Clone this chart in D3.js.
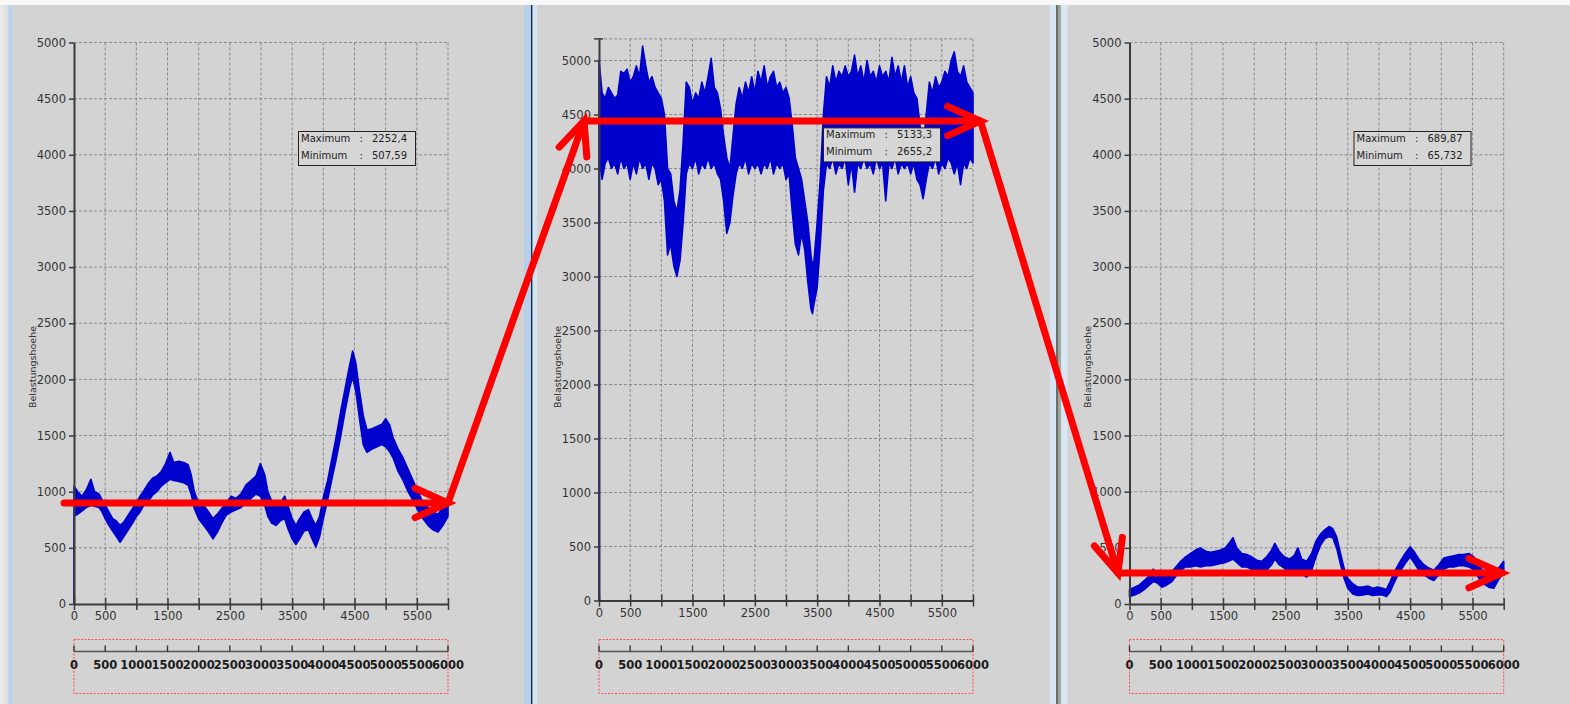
<!DOCTYPE html>
<html>
<head>
<meta charset="utf-8">
<script src="https://cdn.jsdelivr.net/npm/d3@7"></script>
<style>
  html, body { margin: 0; padding: 0; background: #d3d3d3; }
  svg { display: block; }
  text { font-family: "DejaVu Sans", Verdana, sans-serif; }
</style>
</head>
<body>
<svg id="chart" width="1570" height="704"></svg>
<script>
// ---- axis values ----
const timeTicks = d3.range(0, 6001, 500);
const timeLabels = [0, 500, 1500, 2500, 3500, 4500, 5500];
const loadTicks = d3.range(0, 5001, 500);
const axisTitle = "Belastungshoehe";

// ---- run 1: load envelope (upper / lower) over time ----
const run1Time  = [0, 0, 60, 130, 200, 270, 330, 400, 450, 500, 560, 620, 680, 740, 800, 870, 940, 1000, 1060, 1120, 1200, 1260, 1330, 1400, 1470, 1540, 1600, 1680, 1760, 1830, 1880, 1930, 2000, 2080, 2160, 2230, 2300, 2370, 2440, 2520, 2600, 2680, 2760, 2840, 2920, 2990, 3060, 3110, 3170, 3240, 3310, 3380, 3440, 3500, 3560, 3620, 3690, 3760, 3820, 3880, 3940, 4000, 4070, 4140, 4210, 4280, 4350, 4420, 4470, 4520, 4580, 4640, 4700, 4780, 4860, 4940, 5000, 5060, 5120, 5200, 5280, 5360, 5440, 5520, 5600, 5680, 5760, 5840, 5920, 6000];
const run1Upper = [1050, 1050, 1000, 960, 1020, 1110, 1000, 980, 930, 880, 820, 760, 740, 700, 730, 790, 850, 900, 960, 1010, 1080, 1120, 1140, 1180, 1250, 1350, 1260, 1270, 1260, 1240, 1150, 1000, 900, 880, 820, 760, 800, 850, 900, 960, 940, 980, 1060, 1100, 1140, 1250, 1150, 1000, 920, 860, 900, 960, 860, 760, 700, 760, 820, 840, 760, 700, 780, 950, 1100, 1300, 1500, 1720, 1920, 2120, 2252.4, 2150, 1900, 1680, 1550, 1560, 1580, 1600, 1650, 1600, 1480, 1380, 1300, 1200, 1100, 1000, 900, 860, 820, 800, 860, 920];
const run1Lower = [0, 780, 800, 830, 860, 880, 870, 860, 820, 760, 700, 650, 600, 550, 600, 660, 720, 780, 820, 880, 920, 970, 1000, 1050, 1080, 1110, 1100, 1090, 1080, 1060, 980, 850, 760, 700, 640, 580, 640, 720, 790, 820, 840, 860, 900, 940, 980, 960, 880, 780, 720, 700, 740, 760, 660, 580, 530, 580, 650, 660, 580, 507.59, 600, 760, 930, 1120, 1300, 1500, 1720, 1920, 2020, 1900, 1650, 1420, 1350, 1380, 1400, 1420, 1400, 1360, 1300, 1180, 1100, 1000, 920, 830, 760, 700, 660, 640, 700, 780];
const run1Stats = ["2252,4", "507,59"];

// ---- run 2 ----
const run2Time  = [0, 0, 50, 100, 150, 200, 250, 300, 350, 400, 450, 500, 550, 600, 650, 700, 750, 800, 850, 900, 950, 1000, 1050, 1100, 1150, 1200, 1250, 1300, 1350, 1400, 1450, 1500, 1550, 1600, 1650, 1700, 1750, 1800, 1850, 1900, 1950, 2000, 2050, 2100, 2150, 2200, 2250, 2300, 2350, 2400, 2450, 2500, 2550, 2600, 2650, 2700, 2750, 2800, 2850, 2900, 2950, 3000, 3050, 3100, 3150, 3200, 3250, 3300, 3350, 3400, 3425, 3450, 3500, 3550, 3600, 3650, 3700, 3750, 3800, 3850, 3900, 3950, 4000, 4050, 4100, 4150, 4200, 4250, 4300, 4350, 4400, 4450, 4500, 4550, 4600, 4650, 4700, 4750, 4800, 4850, 4900, 4950, 5000, 5050, 5100, 5150, 5200, 5250, 5300, 5350, 5400, 5450, 5500, 5550, 5600, 5650, 5700, 5750, 5800, 5850, 5900, 5950, 6000];
const run2Upper = [5000, 5000, 4700, 4650, 4750, 4700, 4650, 4680, 4900, 4880, 4920, 4800, 4850, 4950, 4850, 5133.3, 4950, 4800, 4850, 4750, 4700, 4650, 4500, 4000, 3950, 3700, 3600, 3800, 4250, 4800, 4750, 4600, 4700, 4650, 4800, 4700, 4850, 5020, 4750, 4700, 4550, 4300, 4100, 4000, 4300, 4600, 4750, 4650, 4800, 4700, 4850, 4700, 4900, 4800, 4950, 4750, 4850, 4900, 4750, 4800, 4700, 4750, 4650, 4400, 4100, 4000, 3900, 3700, 3500, 3200, 3100, 3150, 3500, 3900, 4500, 4850, 4750, 4950, 4800, 4900, 4850, 4950, 4850, 4900, 5050, 4850, 4950, 4800, 5000, 4850, 4900, 4800, 4950, 4850, 4900, 4800, 5030, 4850, 4950, 4800, 4950, 4750, 4850, 4700, 4650, 4400, 4200, 4500, 4800, 4700, 4850, 4750, 4800, 4900, 4850, 5000, 5080, 4900, 4850, 4950, 4800, 4750, 4700];
const run2Lower = [0, 4100, 3900, 4050, 4100, 4000, 4050, 3950, 4100, 4000, 4050, 3900, 4050, 3950, 4100, 4000, 4050, 3900, 4050, 4000, 3850, 3900, 3700, 3200, 3300, 3100, 3000, 3150, 3500, 3950, 4050, 4000, 4100, 3950, 4050, 4000, 4100, 4000, 4050, 3950, 3900, 3700, 3400, 3500, 3750, 3950, 4050, 4000, 4100, 3950, 4050, 4000, 4050, 3950, 4050, 4000, 4100, 3950, 4050, 4000, 4050, 3900, 3950, 3600, 3300, 3200, 3400, 3250, 2950, 2700, 2655.2, 2750, 2900, 3300, 3800, 4050, 4000, 4100, 3950, 4050, 4000, 4100, 3850, 4050, 3780, 4050, 4000, 4100, 4000, 4050, 3950, 4100, 4000, 4050, 3700, 4050, 4000, 4100, 3950, 4050, 4000, 4050, 3950, 4050, 3900, 3850, 3720, 3900, 4050, 4000, 4100, 3950, 4050, 4000, 4100, 4050, 3950, 4050, 3850, 4050, 4000, 4100, 4050];
const run2Stats = ["5133,3", "2655,2"];

// ---- run 3 ----
const run3Time  = [0, 80, 160, 240, 320, 380, 440, 520, 600, 680, 760, 820, 900, 980, 1060, 1140, 1220, 1300, 1380, 1460, 1540, 1620, 1660, 1720, 1800, 1880, 1960, 2040, 2120, 2200, 2280, 2330, 2400, 2480, 2560, 2640, 2700, 2760, 2840, 2920, 2990, 3060, 3130, 3200, 3260, 3320, 3380, 3440, 3500, 3580, 3660, 3740, 3820, 3900, 3980, 4060, 4120, 4180, 4260, 4340, 4420, 4500, 4560, 4640, 4720, 4800, 4880, 4960, 5040, 5120, 5200, 5280, 5360, 5440, 5520, 5600, 5680, 5760, 5840, 5920, 6000];
const run3Upper = [130, 150, 170, 210, 250, 310, 260, 240, 260, 290, 340, 380, 420, 450, 480, 500, 470, 460, 470, 480, 500, 560, 590, 500, 450, 440, 420, 390, 380, 420, 480, 540, 470, 420, 400, 430, 500, 400, 380, 450, 560, 620, 660, 689.87, 670, 600, 460, 320, 230, 180, 150, 150, 160, 140, 150, 140, 130, 200, 300, 380, 450, 510, 470, 400, 350, 320, 300, 350, 410, 420, 430, 440, 440, 450, 420, 340, 290, 250, 230, 320, 380];
const run3Lower = [66, 80, 100, 130, 170, 200, 190, 150, 170, 200, 260, 300, 330, 330, 340, 330, 340, 340, 350, 360, 370, 390, 400, 370, 330, 330, 310, 290, 280, 300, 350, 400, 350, 320, 280, 290, 300, 270, 240, 300, 420, 520, 580, 600, 590, 500, 360, 230, 140, 90, 75, 80, 90, 75, 80, 80, 65.732, 110, 210, 290, 360, 420, 370, 300, 260, 230, 210, 260, 310, 330, 330, 340, 340, 330, 310, 230, 180, 150, 140, 220, 280];
const run3Stats = ["689,87", "65,732"];

// ---- mean load level marked on each run ----
const meanLevels = [900, 4440, 275];
const meanStart = [-160, -240, -185];
const meanEnd = [6000, 6120, 5970];

const svg = d3.select("#chart");

// ---- window frame ----
const grad = svg.append("defs").append("linearGradient").attr("id", "edge").attr("x1", 0).attr("x2", 1);
grad.append("stop").attr("offset", 0).attr("stop-color", "#eeeeee");
grad.append("stop").attr("offset", 1).attr("stop-color", "#dcdcdc");
svg.append("rect").attr("width", 1570).attr("height", 704).attr("fill", "#d3d3d3");
svg.append("rect").attr("x", 0).attr("y", 0).attr("width", 8.5).attr("height", 704).attr("fill", "url(#edge)");
svg.append("rect").attr("x", 8.5).attr("y", 0).attr("width", 4).attr("height", 704).attr("fill", "#b9d1ec");
// splitter 1
svg.append("rect").attr("x", 524).attr("y", 0).attr("width", 7).attr("height", 704).attr("fill", "#b7cfea");
svg.append("rect").attr("x", 531).attr("y", 0).attr("width", 1.6).attr("height", 704).attr("fill", "#0f2f48");
svg.append("rect").attr("x", 532.6).attr("y", 0).attr("width", 4.4).attr("height", 704).attr("fill", "#d5e4f4");
// splitter 2
svg.append("rect").attr("x", 1050).attr("y", 0).attr("width", 6).attr("height", 704).attr("fill", "#d5e3f2");
svg.append("rect").attr("x", 1056).attr("y", 0).attr("width", 2.6).attr("height", 704).attr("fill", "#687068");
svg.append("rect").attr("x", 1058.6).attr("y", 0).attr("width", 2.6).attr("height", 704).attr("fill", "#a2aaa2");
svg.append("rect").attr("x", 1061.2).attr("y", 0).attr("width", 6.3).attr("height", 704).attr("fill", "#dae7f5");
svg.append("rect").attr("x", 0).attr("y", 0).attr("width", 1570).attr("height", 5).attr("fill", "#f8f8f8");

// ---- chart layouts ----
const charts = [
  { x0: 74,     x1: 448,    yBottom: 604,   yTop: 42.5, yMax: 5000, time: run1Time, upper: run1Upper, lower: run1Lower, stats: run1Stats },
  { x0: 599,    x1: 973,    yBottom: 600.5, yTop: 38.9, yMax: 5200, time: run2Time, upper: run2Upper, lower: run2Lower, stats: run2Stats },
  { x0: 1129.5, x1: 1503.7, yBottom: 604,   yTop: 42.5, yMax: 5000, time: run3Time, upper: run3Upper, lower: run3Lower, stats: run3Stats }
];

const gridColor = "#8a8a8a";
const axisColor = "#3a3a3a";
const lineBlue = "#0000cc";

charts.forEach(c => {
  c.x = d3.scaleLinear().domain([0, 6000]).range([c.x0, c.x1]);
  c.y = d3.scaleLinear().domain([0, c.yMax]).range([c.yBottom, c.yTop]);
  const g = svg.append("g");

  // grid
  g.append("g").selectAll("line").data(timeTicks.filter(t => t > 0)).join("line")
    .attr("x1", d => c.x(d)).attr("x2", d => c.x(d))
    .attr("y1", c.y(c.yMax)).attr("y2", c.y(0))
    .attr("stroke", gridColor).attr("stroke-width", 1).attr("stroke-dasharray", "3,2");
  const hLines = loadTicks.filter(t => t > 0 && t < c.yMax).concat([c.yMax]);
  g.append("g").selectAll("line").data(hLines).join("line")
    .attr("x1", c.x(0)).attr("x2", c.x(6000))
    .attr("y1", d => c.y(d)).attr("y2", d => c.y(d))
    .attr("stroke", gridColor).attr("stroke-width", 1).attr("stroke-dasharray", "3,2");

  // series envelope
  const pts = c.time.map((t, i) => ({ t, hi: c.upper[i], lo: c.lower[i] }));
  const area = d3.area().x(d => c.x(d.t)).y0(d => c.y(d.lo)).y1(d => c.y(d.hi));
  g.append("path").datum(pts).attr("d", area)
    .attr("fill", lineBlue).attr("stroke", lineBlue).attr("stroke-width", 1.6).attr("stroke-linejoin", "round");

  // y axis
  const yAxis = g.append("g").attr("transform", `translate(${c.x0},0)`)
    .call(d3.axisLeft(c.y).tickValues(loadTicks).tickSize(5).tickSizeOuter(0).tickPadding(3).tickFormat(d3.format("d")));
  yAxis.select(".domain").attr("stroke", axisColor).attr("stroke-width", 2);
  yAxis.selectAll(".tick line").attr("stroke", axisColor).attr("stroke-width", 1.5);
  yAxis.selectAll(".tick text").attr("fill", "#333").style("font-size", "11.5px").style("font-family", '"DejaVu Sans", sans-serif');
  if (c.yMax > 5000) {
    g.append("line").attr("x1", c.x0 - 5).attr("x2", c.x0 + 4).attr("y1", c.y(c.yMax)).attr("y2", c.y(c.yMax))
      .attr("stroke", axisColor).attr("stroke-width", 1.5);
  }

  // x axis
  const xAxis = g.append("g").attr("transform", `translate(0,${c.yBottom})`)
    .call(d3.axisBottom(c.x).tickValues(timeTicks).tickSize(6).tickSizeOuter(0).tickPadding(2)
      .tickFormat(d => timeLabels.includes(d) ? String(d) : ""));
  xAxis.select(".domain").attr("stroke", axisColor).attr("stroke-width", 2);
  xAxis.selectAll(".tick line").attr("y1", -6).attr("stroke", axisColor).attr("stroke-width", 1.5);
  xAxis.selectAll(".tick text").attr("fill", "#333").style("font-size", "11.5px").style("font-family", '"DejaVu Sans", sans-serif');

  // y title
  g.append("text").attr("transform", `translate(${c.x0 - 41},367) rotate(-90)`)
    .attr("text-anchor", "middle").attr("dominant-baseline", "middle")
    .attr("fill", "#333").style("font-size", "9.5px").text(axisTitle);

  // min / max box
  const bx = c.x0 + 224.5, by = c.yTop + 89;
  const box = g.append("g").attr("transform", `translate(${bx},${by})`);
  box.append("rect").attr("width", 117).attr("height", 34).attr("fill", "#d6d6d6")
    .attr("stroke", "#222").attr("stroke-width", 1);
  [["Maximum", c.stats[0]], ["Minimum", c.stats[1]]].forEach((row, i) => {
    const ty = 7.5 + i * 16.5;
    box.append("text").attr("x", 2.5).attr("y", ty).attr("dominant-baseline", "middle")
      .attr("fill", "#222").style("font-size", "10px").text(row[0]);
    box.append("text").attr("x", 61).attr("y", ty).attr("dominant-baseline", "middle")
      .attr("fill", "#222").style("font-size", "10px").text(":");
    box.append("text").attr("x", 73.5).attr("y", ty).attr("dominant-baseline", "middle")
      .attr("fill", "#222").style("font-size", "10px").text(row[1]);
  });

  // range selector strip
  const sy = 651.5;
  g.append("rect").attr("x", c.x0).attr("y", 639.5).attr("width", c.x1 - c.x0).attr("height", 54)
    .attr("fill", "none").attr("stroke", "#ff4a4a").attr("stroke-width", 1).attr("stroke-dasharray", "2,1.5");
  g.append("line").attr("x1", c.x0).attr("x2", c.x1).attr("y1", sy).attr("y2", sy)
    .attr("stroke", "#555").attr("stroke-width", 1.6);
  g.append("g").selectAll("line").data(timeTicks).join("line")
    .attr("x1", d => c.x(d)).attr("x2", d => c.x(d)).attr("y1", sy - 6).attr("y2", sy)
    .attr("stroke", "#333").attr("stroke-width", 1.4);
  g.append("g").selectAll("text").data(timeTicks).join("text")
    .attr("x", d => c.x(d)).attr("y", 665).attr("text-anchor", "middle").attr("dominant-baseline", "middle")
    .attr("fill", "#1a1a1a").style("font-size", "11.5px").style("font-weight", "bold").text(d => d);
});

// ---- mean level arrows across the three runs ----
const path = [];
charts.forEach((c, i) => {
  path.push([c.x(meanStart[i]), c.y(meanLevels[i])]);
  path.push([c.x(meanEnd[i]), c.y(meanLevels[i])]);
});
const red = "#ff0000";
svg.append("path").attr("d", d3.line()(path)).attr("fill", "none")
  .attr("stroke", red).attr("stroke-width", 7).attr("stroke-linejoin", "round").attr("stroke-linecap", "round");
function chevron(from, tip) {
  const dx = from[0] - tip[0], dy = from[1] - tip[1];
  const a = Math.atan2(dy, dx), len = 36, spread = 24 * Math.PI / 180;
  const p1 = [tip[0] + len * Math.cos(a - spread), tip[1] + len * Math.sin(a - spread)];
  const p2 = [tip[0] + len * Math.cos(a + spread), tip[1] + len * Math.sin(a + spread)];
  svg.append("path").attr("d", d3.line()([p1, tip, p2])).attr("fill", "none")
    .attr("stroke", red).attr("stroke-width", 7).attr("stroke-linejoin", "miter").attr("stroke-linecap", "round");
}
for (let i = 1; i < path.length; i++) chevron(path[i - 1], path[i]);
</script>
</body>
</html>
